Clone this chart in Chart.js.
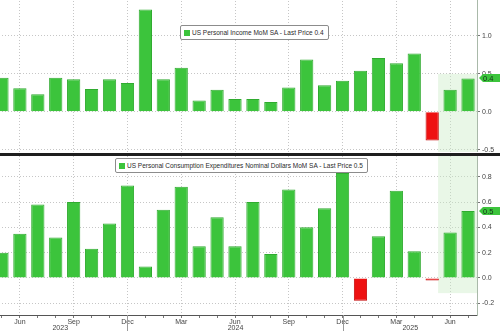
<!DOCTYPE html>
<html>
<head>
<meta charset="utf-8">
<script src="https://cdn.jsdelivr.net/npm/chart.js@4.4.1/dist/chart.umd.min.js"></script>
<style>
    body { margin: 0; background: #fff; width: 500px; height: 331px; overflow: hidden; position: relative; font-family: 'Liberation Sans', Arial, sans-serif; }
    .pane { position: absolute; left: -7px; width: 507px; }
    #topPane { top: -2px; height: 154px; }
    #bottomPane { top: 156px; height: 175px; }
    #divider { position: absolute; left: 0; top: 153px; width: 500px; height: 3px; background: #1e1e1e; }
    .legend { position: absolute; background: #fff; border: 1px solid #8c8c8c; border-radius: 2px; font-size: 6.5px; color: #2a2a2a; white-space: nowrap; padding: 0 4px 0 3px; line-height: 13px; }
    .legend span { display: inline-block; width: 6px; height: 6px; background: #3cc43c; margin-right: 2px; vertical-align: -0.5px; }
</style>
</head>
<body>
<div class="pane" id="topPane"><canvas id="incomeChart"></canvas></div>
<div id="divider"></div>
<div class="pane" id="bottomPane"><canvas id="pceChart"></canvas></div>
<div class="legend" id="incomeLegend" style="left:180px; top:25px;"></div>
<div class="legend" id="pceLegend" style="left:115px; top:158px;"></div>
<script>
const months = [
    'May 2023', 'Jun 2023', 'Jul 2023', 'Aug 2023', 'Sep 2023', 'Oct 2023', 'Nov 2023', 'Dec 2023',
    'Jan 2024', 'Feb 2024', 'Mar 2024', 'Apr 2024', 'May 2024', 'Jun 2024', 'Jul 2024', 'Aug 2024',
    'Sep 2024', 'Oct 2024', 'Nov 2024', 'Dec 2024',
    'Jan 2025', 'Feb 2025', 'Mar 2025', 'Apr 2025', 'May 2025', 'Jun 2025', 'Jul 2025'
];
const incomeValues = [0.45, 0.31, 0.23, 0.45, 0.43, 0.30, 0.43, 0.38, 1.35, 0.43, 0.58, 0.15, 0.29, 0.17,
    0.17, 0.13, 0.32, 0.69, 0.35, 0.41, 0.54, 0.71, 0.64, 0.77, -0.38, 0.29, 0.44];
const pceValues = [0.20, 0.35, 0.58, 0.32, 0.60, 0.23, 0.43, 0.73, 0.09, 0.54, 0.72, 0.25, 0.48, 0.25,
    0.60, 0.19, 0.70, 0.40, 0.55, 0.83, -0.18, 0.33, 0.69, 0.21, -0.02, 0.36, 0.53];
const incomeTicks = [-0.5, 0, 0.5, 1.0, 1.5];
const pceTicks = [-0.2, 0, 0.2, 0.4, 0.6, 0.8];
const gridMonths = ['Jun', 'Sep', 'Dec', 'Mar'];
const incomeName = 'US Personal Income MoM SA';
const pceName = 'US Personal Consumption Expenditures Nominal Dollars MoM SA';

const green = '#3cc43c';
const greenEdge = '#30ab30';
const red = '#ee1111';
const redEdge = '#c40808';
const gridColor = '#c6c6c6';
const monthOf = i => months[i].split(' ')[0];

// light green box over the latest months
const shadePlugin = {
    id: 'shade',
    beforeDatasetsDraw(chart, args, opts) {
        const { ctx, chartArea, scales: { x, y } } = chart;
        const step = x.getPixelForValue(1) - x.getPixelForValue(0);
        const left = x.getPixelForValue(opts.fromIndex) - step * 0.67;
        const top = opts.yMax == null ? chartArea.top : y.getPixelForValue(opts.yMax);
        const bottom = opts.yMin == null ? chartArea.bottom : y.getPixelForValue(opts.yMin);
        ctx.save();
        ctx.fillStyle = 'rgba(200, 234, 194, 0.4)';
        ctx.fillRect(left, top, chartArea.right - left, bottom - top);
        ctx.restore();
    }
};

// green "last price" tag on the right axis
const tagPlugin = {
    id: 'lastTag',
    afterDraw(chart) {
        const { ctx, chartArea, scales: { y } } = chart;
        const data = chart.data.datasets[0].data;
        const v = data[data.length - 1];
        const py = Math.round(y.getPixelForValue(v));
        const x0 = chartArea.right + 2;
        const x1 = chart.width;
        ctx.save();
        ctx.fillStyle = green;
        ctx.beginPath();
        ctx.moveTo(x0, py);
        ctx.lineTo(x0 + 4, py - 4);
        ctx.lineTo(x1, py - 4);
        ctx.lineTo(x1, py + 4);
        ctx.lineTo(x0 + 4, py + 4);
        ctx.closePath();
        ctx.fill();
        ctx.fillStyle = '#15301a';
        ctx.font = '7.5px "Liberation Sans"';
        ctx.textBaseline = 'middle';
        ctx.fillText(v.toFixed(1), x0 + 4, py + 0.5);
        ctx.restore();
    }
};

// year row and year separators under the bottom axis
const yearPlugin = {
    id: 'years',
    afterDraw(chart) {
        const { ctx, chartArea, scales: { x } } = chart;
        const seps = [];
        months.forEach((m, i) => { if (m.startsWith('Dec')) seps.push(Math.round(x.getPixelForValue(i)) + 0.5); });
        const bounds = [chartArea.left, ...seps, chartArea.right];
        const years = [...new Set(months.map(m => m.split(' ')[1]))];
        ctx.save();
        ctx.strokeStyle = '#9a9a9a';
        ctx.lineWidth = 1;
        seps.forEach(px => {
            ctx.beginPath();
            ctx.moveTo(px, chartArea.bottom);
            ctx.lineTo(px, chart.height);
            ctx.stroke();
        });
        ctx.font = '7px "Liberation Sans"';
        ctx.fillStyle = '#444';
        ctx.textAlign = 'center';
        ctx.textBaseline = 'middle';
        years.forEach((yr, i) => {
            ctx.fillText(yr, (bounds[i] + bounds[i + 1]) / 2, chartArea.bottom + 13);
        });
        ctx.restore();
    }
};

function makeChart(canvasId, values, yTicks, yMin, yMax, showX, shade) {
    const ctx = document.getElementById(canvasId).getContext('2d');
    return new Chart(ctx, {
        type: 'bar',
        data: {
            labels: months,
            datasets: [{
                data: values,
                backgroundColor: c => c.raw < 0 ? red : green,
                borderColor: c => c.raw < 0 ? redEdge : greenEdge,
                borderWidth: 1,
                barPercentage: 0.74,
                categoryPercentage: 1
            }]
        },
        options: {
            responsive: true,
            maintainAspectRatio: false,
            animation: false,
            layout: { padding: 0 },
            plugins: {
                legend: { display: false },
                tooltip: { enabled: false },
                shade: shade
            },
            scales: {
                x: {
                    grid: {
                        offset: false,
                        color: c => gridMonths.includes(monthOf(c.index)) ? gridColor : 'rgba(0,0,0,0)',
                        drawTicks: showX,
                        tickColor: '#777',
                        tickLength: 3
                    },
                    border: { display: showX, color: '#555', dash: [1, 2] },
                    ticks: {
                        display: showX,
                        autoSkip: false,
                        maxRotation: 0,
                        padding: 0,
                        font: { size: 7, family: 'Liberation Sans' },
                        color: '#444',
                        callback: (v, i) => gridMonths.includes(monthOf(i)) ? monthOf(i) : ''
                    },
                    afterFit: s => { s.height = showX ? 16 : 0; s.paddingLeft = 0; s.paddingRight = 0; }
                },
                y: {
                    position: 'right',
                    min: yMin,
                    max: yMax,
                    afterBuildTicks: s => { s.ticks = yTicks.map(v => ({ value: v })); },
                    afterFit: s => { s.width = 23; s.paddingTop = 0; s.paddingBottom = 0; },
                    grid: { color: gridColor, tickColor: '#777', tickLength: 3 },
                    border: { color: '#a9b9a9', dash: [1, 2] },
                    ticks: {
                        font: { size: 7, family: 'Liberation Sans' },
                        color: '#444',
                        padding: 2,
                        callback: v => v.toFixed(1)
                    }
                }
            }
        },
        plugins: showX ? [shadePlugin, tagPlugin, yearPlugin] : [shadePlugin, tagPlugin]
    });
}

makeChart('incomeChart', incomeValues, incomeTicks, -0.53, 1.5, false, { fromIndex: 25, yMax: 0.5 });
makeChart('pceChart', pceValues, pceTicks, -0.293, 0.964, true, { fromIndex: 25, yMin: -0.12 });

document.getElementById('incomeLegend').innerHTML =
    '<span></span>' + incomeName + ' - Last Price ' + incomeValues[incomeValues.length - 1].toFixed(1);
document.getElementById('pceLegend').innerHTML =
    '<span></span>' + pceName + ' - Last Price ' + pceValues[pceValues.length - 1].toFixed(1);
</script>
</body>
</html>
